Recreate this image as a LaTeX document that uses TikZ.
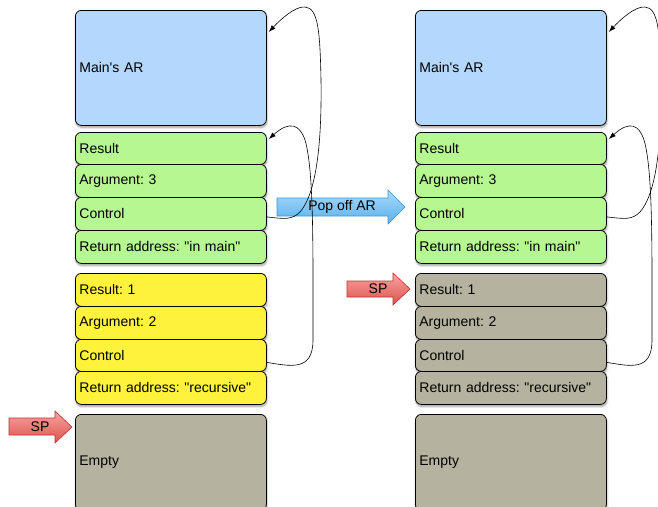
\documentclass[tikz,border=0pt]{standalone}
\usepackage{fontspec}
\setmainfont{Liberation Sans}[Ligatures=TeXOff]
\usetikzlibrary{shadows.blur,arrows.meta}
\definecolor{mainblue}{RGB}{180,216,253}
\definecolor{cellgreen}{RGB}{182,247,145}
\definecolor{cellyellow}{RGB}{255,242,60}
\definecolor{cellgray}{RGB}{181,179,159}
\definecolor{popTop}{RGB}{170,218,250}
\definecolor{popBot}{RGB}{88,176,236}
\definecolor{popBorder}{RGB}{60,150,215}
\definecolor{spTop}{RGB}{246,165,160}
\definecolor{spBot}{RGB}{222,82,78}
\definecolor{spBorder}{RGB}{190,50,45}
\frenchspacing
\begin{document}
\begin{tikzpicture}[x=1pt,y=-1pt,
  cell/.style={draw=black, line width=0.8pt, rounded corners=6pt, anchor=north west,
    minimum width=191pt, minimum height=33pt, text width=183pt, inner xsep=4pt, inner ysep=0pt,
    align=left, font=\fontsize{14}{16}\selectfont,
    blur shadow={shadow xshift=0.5pt, shadow yshift=-2pt, shadow blur steps=6, shadow opacity=40}},
  mainc/.style={cell, fill=mainblue, minimum height=115pt},
  greenc/.style={cell, fill=cellgreen},
  yellowc/.style={cell, fill=cellyellow},
  grayc/.style={cell, fill=cellgray},
  emptyc/.style={cell, fill=cellgray, minimum height=96pt},
  link/.style={draw=black, line width=0.6pt, -{Latex[length=7pt,width=5pt]}},
  poparrow/.style={draw=popBorder, line width=0.6pt, top color=popTop, bottom color=popBot},
  sparrow/.style={draw=spBorder, line width=0.6pt, top color=spTop, bottom color=spBot},
  arrowtext/.style={font=\fontsize{14}{16}\selectfont, inner sep=0pt}
]
\useasboundingbox (0,0) rectangle (658,506);

% left column
\node[mainc] (mainL) at (75,10) {Main's AR};
\node[greenc, minimum height=32pt] (resL) at (75,132) {Result};
\node[greenc] (argL) at (75,164) {Argument: 3};
\node[greenc] (ctlL) at (75,197) {Control};
\node[greenc] (retL) at (75,230) {Return address: "in main"};
\node[yellowc] (resYL) at (75,273) {Result: 1};
\node[yellowc] (argYL) at (75,306) {Argument: 2};
\node[yellowc, minimum height=32pt] (ctlYL) at (75,339) {Control};
\node[yellowc] (retYL) at (75,371) {Return address: "recursive"};
\node[emptyc] (empL) at (75,414) {Empty};

% right column
\node[mainc] (mainR) at (415,10) {Main's AR};
\node[greenc, minimum height=32pt] (resR) at (415,132) {Result};
\node[greenc] (argR) at (415,164) {Argument: 3};
\node[greenc] (ctlR) at (415,197) {Control};
\node[greenc] (retR) at (415,230) {Return address: "in main"};
\node[grayc] (resGR) at (415,273) {Result: 1};
\node[grayc] (argGR) at (415,306) {Argument: 2};
\node[grayc, minimum height=32pt] (ctlGR) at (415,339) {Control};
\node[grayc] (retGR) at (415,371) {Return address: "recursive"};
\node[emptyc] (empR) at (415,414) {Empty};

% Pop off AR arrow
\path[poparrow] (277,198) -- (388,198) -- (388,190) -- (405,207) -- (388,224) -- (388,216) -- (277,216) -- cycle;
\node[arrowtext] (pop) at (342,207) {Pop off AR};

% SP arrows
\path[sparrow] (9,418) -- (55,418) -- (55,411) -- (72,427) -- (55,443) -- (55,435) -- (9,435) -- cycle;
\node[arrowtext] (spL) at (40,427) {SP};
\path[sparrow] (347,281) -- (393,281) -- (393,273) -- (410,289) -- (393,305) -- (393,297) -- (347,297) -- cycle;
\node[arrowtext] (spR) at (378,289) {SP};

% control links, left
\draw[link] ([yshift=-3pt]ctlL.east) .. controls (285,219) and (292,220) .. (300,212)
  .. controls (315,195) and (322,150) .. (321,80)
  .. controls (320,30) and (318,8) .. (305,7)
  .. controls (295,6) and (280,20) .. ([xshift=2pt,yshift=-22pt]mainL.north east);
\draw[link] ([yshift=-7pt]ctlYL.east) .. controls (290,366) and (313,372) .. (313,340)
  .. controls (313,250) and (314,170) .. (305,140)
  .. controls (300,125) and (290,120) .. ([xshift=2pt,yshift=-7pt]resL.north east);

% control links, right
\begin{scope}[xshift=340pt]
\draw[link] ([yshift=-3pt]ctlR.east) .. controls (285,219) and (292,220) .. (300,212)
  .. controls (315,195) and (322,150) .. (321,80)
  .. controls (320,30) and (318,8) .. (305,7)
  .. controls (295,6) and (280,20) .. ([xshift=2pt,yshift=-22pt]mainR.north east);
\draw[link] ([yshift=-7pt]ctlGR.east) .. controls (290,366) and (312,372) .. (312,340)
  .. controls (312,250) and (313,170) .. (304,140)
  .. controls (299,125) and (290,120) .. ([xshift=2pt,yshift=-7pt]resR.north east);
\end{scope}
\end{tikzpicture}
\end{document}
